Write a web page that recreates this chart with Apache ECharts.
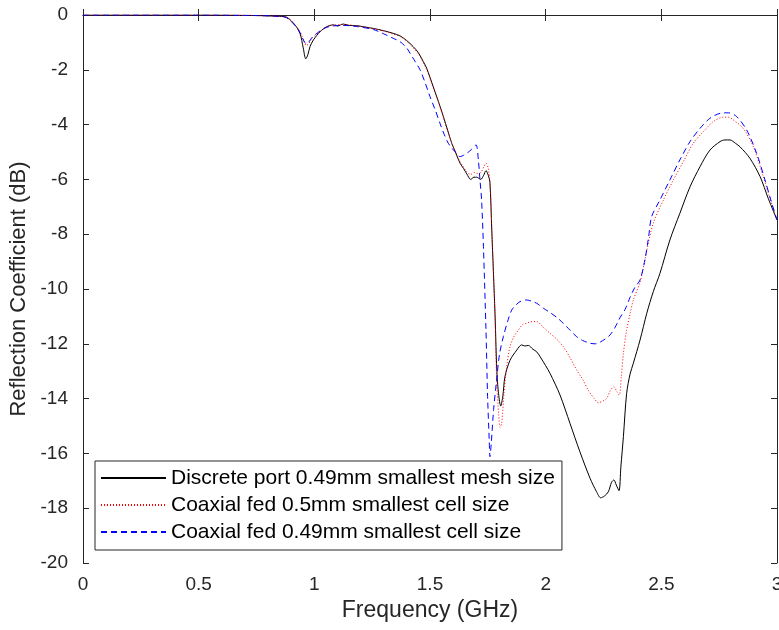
<!DOCTYPE html>
<html>
<head>
<meta charset="utf-8">
<script src="https://cdn.jsdelivr.net/npm/echarts@6/dist/echarts.min.js"></script>
<style>
html,body{margin:0;padding:0;background:#fff;overflow:hidden;}
#chart{position:absolute;left:0;top:0;width:779px;height:630px;}
</style>
</head>
<body>
<div id="chart"></div>
<script>
const xTicks = [0, 0.5, 1, 1.5, 2, 2.5, 3];
const yTicks = [0, -2, -4, -6, -8, -10, -12, -14, -16, -18, -20];
const seriesNames = [
  'Discrete port 0.49mm smallest mesh size',
  'Coaxial fed 0.5mm smallest cell size',
  'Coaxial fed 0.49mm smallest cell size'
];

const freqDiscrete = [0,0.5,0.75,0.85,0.88,0.916,0.938,0.952,0.963,0.972,0.981,0.996,1.025,1.053,1.082,1.1,1.125,1.15,1.183,1.22,1.255,1.298,1.341,1.37,1.399,1.428,1.45,1.471,1.486,1.514,1.536,1.558,1.576,1.594,1.612,1.63,1.645,1.659,1.676,1.69,1.702,1.719,1.732,1.742,1.752,1.759,1.767,1.781,1.791,1.806,1.815,1.824,1.846,1.875,1.896,1.91,1.925,1.945,1.961,1.976,2.0,2.019,2.062,2.105,2.148,2.192,2.22,2.238,2.255,2.271,2.285,2.295,2.305,2.317,2.325,2.336,2.35,2.365,2.379,2.408,2.437,2.465,2.494,2.537,2.58,2.624,2.667,2.71,2.754,2.775,2.797,2.82,2.84,2.883,2.927,2.962,3.0];
const dbDiscrete = [0,0,-0.02,-0.05,-0.08,-0.36,-0.67,-1.2,-1.6,-1.45,-1.16,-0.91,-0.61,-0.43,-0.36,-0.4,-0.33,-0.38,-0.39,-0.44,-0.49,-0.57,-0.67,-0.76,-0.93,-1.16,-1.38,-1.7,-1.95,-2.62,-3.15,-3.71,-4.2,-4.68,-5.05,-5.41,-5.6,-5.8,-6.0,-5.92,-5.92,-6.0,-5.85,-5.68,-5.85,-6.1,-7.85,-10.89,-13.3,-14.27,-13.9,-13.2,-12.6,-12.23,-12.04,-12.08,-12.06,-12.2,-12.29,-12.47,-12.8,-13.08,-13.87,-14.9,-15.94,-16.91,-17.4,-17.62,-17.55,-17.4,-17.05,-16.97,-17.15,-17.36,-16.5,-15.39,-13.81,-13.1,-12.71,-11.86,-10.89,-10.1,-9.43,-8.21,-7.24,-6.27,-5.54,-4.93,-4.62,-4.56,-4.56,-4.68,-4.81,-5.23,-5.9,-6.69,-7.48];

const freqCoax05 = [0,0.5,0.75,0.85,0.88,0.916,0.938,0.955,0.965,0.975,0.99,1.025,1.053,1.082,1.125,1.183,1.255,1.298,1.341,1.37,1.399,1.428,1.45,1.471,1.486,1.514,1.536,1.558,1.576,1.594,1.612,1.63,1.645,1.659,1.676,1.69,1.702,1.719,1.732,1.742,1.752,1.76,1.767,1.781,1.788,1.797,1.803,1.81,1.82,1.832,1.846,1.865,1.882,1.9,1.918,1.932,1.961,1.99,2.019,2.05,2.076,2.105,2.134,2.16,2.184,2.21,2.228,2.245,2.264,2.28,2.295,2.308,2.318,2.327,2.336,2.35,2.365,2.379,2.408,2.437,2.465,2.509,2.552,2.595,2.638,2.681,2.725,2.768,2.79,2.811,2.854,2.898,2.941,2.97,3.0];
const dbCoax05 = [0,0,-0.02,-0.05,-0.08,-0.36,-0.6,-0.95,-1.12,-1.05,-0.85,-0.6,-0.43,-0.37,-0.35,-0.4,-0.5,-0.58,-0.7,-0.78,-0.95,-1.2,-1.42,-1.74,-2.0,-2.66,-3.18,-3.74,-4.22,-4.68,-5.02,-5.36,-5.55,-5.72,-5.82,-5.75,-5.78,-5.75,-5.55,-5.41,-5.6,-6.2,-7.8,-11.0,-13.3,-14.6,-15.05,-14.9,-13.8,-12.8,-12.1,-11.7,-11.5,-11.3,-11.25,-11.2,-11.19,-11.4,-11.62,-11.85,-12.1,-12.5,-12.96,-13.3,-13.69,-14.0,-14.15,-14.1,-13.99,-13.7,-13.57,-13.75,-13.87,-13.2,-12.35,-11.5,-10.9,-10.4,-9.75,-8.6,-7.6,-6.75,-6.02,-5.35,-4.68,-4.26,-3.89,-3.73,-3.73,-3.83,-4.14,-4.81,-5.9,-6.7,-7.48];

const freqCoax049 = [0,0.5,0.75,0.85,0.88,0.916,0.938,0.955,0.965,0.975,0.99,1.025,1.053,1.082,1.125,1.183,1.255,1.298,1.341,1.37,1.399,1.414,1.436,1.457,1.478,1.5,1.522,1.543,1.561,1.579,1.594,1.608,1.63,1.645,1.659,1.68,1.699,1.709,1.716,1.723,1.731,1.742,1.749,1.756,1.759,1.765,1.775,1.788,1.8,1.817,1.835,1.853,1.87,1.889,1.918,1.94,1.961,1.99,2.019,2.05,2.076,2.105,2.134,2.16,2.192,2.215,2.235,2.258,2.278,2.3,2.321,2.343,2.365,2.385,2.408,2.429,2.445,2.458,2.494,2.537,2.58,2.624,2.667,2.71,2.754,2.79,2.826,2.869,2.912,2.948,2.975,3.0];
const dbCoax049 = [0,0,-0.02,-0.05,-0.1,-0.38,-0.65,-0.95,-1.05,-1.0,-0.82,-0.58,-0.45,-0.4,-0.38,-0.42,-0.53,-0.68,-0.85,-0.97,-1.2,-1.4,-1.7,-2.0,-2.45,-2.98,-3.45,-3.95,-4.35,-4.68,-4.85,-4.99,-5.17,-5.12,-5.05,-4.9,-4.74,-5.29,-6.02,-6.75,-8.46,-11.5,-13.93,-15.5,-16.12,-15.6,-14.4,-13.32,-12.4,-11.74,-11.2,-10.77,-10.6,-10.46,-10.4,-10.45,-10.52,-10.7,-10.86,-11.05,-11.25,-11.5,-11.74,-11.88,-11.98,-12.0,-11.94,-11.82,-11.68,-11.4,-11.05,-10.75,-10.3,-9.95,-9.67,-8.94,-8.1,-7.36,-6.75,-6.02,-5.29,-4.62,-4.14,-3.77,-3.59,-3.57,-3.71,-4.2,-5.05,-6.02,-6.8,-7.48];

function pairs(xs, ys) { return xs.map((x, i) => [x, ys[i]]); }

const axisColor = '#262626';
const font = '"Liberation Sans", Arial, Helvetica, sans-serif';

const chart = echarts.init(document.getElementById('chart'), null, {renderer: 'canvas'});
const baseX = {
  type: 'value', min: xTicks[0], max: xTicks[xTicks.length - 1], interval: 0.5,
  axisLine: {show: true, lineStyle: {color: axisColor, width: 1}},
  axisTick: {show: true, inside: true, length: 6, lineStyle: {color: axisColor}},
  splitLine: {show: false}
};
const baseY = {
  type: 'value', min: yTicks[yTicks.length - 1], max: yTicks[0], interval: 2,
  axisLine: {show: true, onZero: false, lineStyle: {color: axisColor, width: 1}},
  axisTick: {show: true, inside: true, length: 6, lineStyle: {color: axisColor}},
  splitLine: {show: false}
};
chart.setOption({
  animation: false,
  backgroundColor: '#fff',
  grid: {left: 83, right: 2, top: 15, bottom: 67, containLabel: false, outerBoundsMode: 'none'},
  xAxis: [
    Object.assign({}, baseX, {
      position: 'bottom',
      name: 'Frequency (GHz)', nameLocation: 'middle', nameGap: 36,
      nameTextStyle: {fontFamily: font, fontSize: 23, color: axisColor},
      axisLabel: {margin: 12, fontFamily: font, fontSize: 19, color: axisColor,
        formatter: v => String(v)}
    }),
    Object.assign({}, baseX, {position: 'top', axisLabel: {show: false}})
  ],
  yAxis: [
    Object.assign({}, baseY, {
      position: 'left',
      name: 'Reflection Coefficient (dB)', nameLocation: 'middle', nameGap: 50,
      nameRotate: 90,
      nameTextStyle: {fontFamily: font, fontSize: 22, color: axisColor},
      axisLabel: {margin: 15, fontFamily: font, fontSize: 19, color: axisColor,
        formatter: v => String(v)}
    }),
    Object.assign({}, baseY, {position: 'right', axisLabel: {show: false}})
  ],
  legend: {
    orient: 'vertical', left: 95, top: 461,
    backgroundColor: '#fff', borderColor: axisColor, borderWidth: 1,
    padding: [6, 7, 7, 5],
    itemWidth: 65, itemHeight: 22, itemGap: 5,
    itemStyle: {opacity: 0},
    textStyle: {fontFamily: font, fontSize: 21, lineHeight: 22, color: '#000'},
    data: seriesNames
  },
  series: [
    {name: seriesNames[0], type: 'line', symbol: 'none', smooth: 0.3,
      data: pairs(freqDiscrete, dbDiscrete),
      lineStyle: {color: '#000', width: 1, type: 'solid'}, itemStyle: {color: '#000'}},
    {name: seriesNames[1], type: 'line', symbol: 'none', smooth: 0.3,
      data: pairs(freqCoax05, dbCoax05),
      lineStyle: {color: '#ff0000', width: 1, type: [1, 2]}, itemStyle: {color: '#ff0000'}},
    {name: seriesNames[2], type: 'line', symbol: 'none', smooth: 0.3,
      data: pairs(freqCoax049, dbCoax049),
      lineStyle: {color: '#0000ff', width: 1, type: [6, 4]}, itemStyle: {color: '#0000ff'}}
  ]
});
</script>
</body>
</html>
